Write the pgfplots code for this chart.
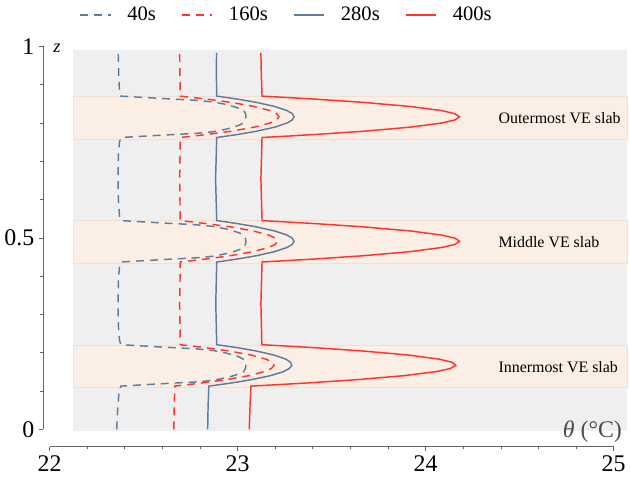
\documentclass[border=0pt]{standalone}
\usepackage{pgfplots}
\pgfplotsset{compat=1.18}
\usepackage{fontspec}
\setmainfont{Liberation Serif}
\definecolor{cblue}{RGB}{92,124,160}
\definecolor{cred}{RGB}{255,52,48}
\definecolor{bggray}{RGB}{239,239,239}
\definecolor{band}{RGB}{251,238,229}
\definecolor{bandedge}{RGB}{240,225,215}
\definecolor{axgray}{RGB}{100,100,100}
\newcommand{\lgd}[1]{\hspace{12pt}\fontsize{15.5}{15.5}\selectfont #1}
\newcommand{\lgap}{\rule{19pt}{0pt}}
\begin{document}
\begin{tikzpicture}
\begin{axis}[
  scale only axis, width=425.25pt, height=288.75pt,
  xmin=22, xmax=25, ymin=0, ymax=1,
  axis x line*=bottom, axis y line*=left,
  axis x line shift=13pt, axis y line shift=5pt,
  axis line style={-, axgray, line width=0.6pt},
  xtick={22,23,24,25}, ytick={0,0.5,1},
  xticklabels={22,23,24,25}, yticklabels={0,0.5,1},
  minor xtick={22.2,22.4,22.6,22.8,23.2,23.4,23.6,23.8,24.2,24.4,24.6,24.8},
  minor ytick={0.1,0.2,0.3,0.4,0.6,0.7,0.8,0.9},
  tick align=outside,
  major tick length=3pt, minor tick length=2pt,
  tick style={axgray, line width=0.5pt},
  /pgf/number format/assume math mode=true,
  tick label style={font=\rmfamily\fontsize{18}{18}\selectfont, black},
  clip=false,
  legend columns=4,
  legend style={draw=none, fill=none, at={(0.053,1.082)}, anchor=west,
    inner sep=0pt, outer sep=0pt, column sep=0pt,
    nodes={inner sep=0pt},
    font=\rmfamily\fontsize{15.5}{15.5}\selectfont},
  legend image code/.code={\draw[#1] (0pt,0pt) -- (23pt,0pt);},
]
\path (axis cs:21.739,-0.128) rectangle (axis cs:25.072,1.121);
\fill[bggray] (axis cs:22.127,-0.004) rectangle (axis cs:25.072,0.991);
\filldraw[fill=band, draw=bandedge, line width=0.3pt] (axis cs:22.127,0.758) rectangle (axis cs:25.072,0.870);
\filldraw[fill=band, draw=bandedge, line width=0.3pt] (axis cs:22.127,0.434) rectangle (axis cs:25.072,0.5465);
\filldraw[fill=band, draw=bandedge, line width=0.3pt] (axis cs:22.127,0.110) rectangle (axis cs:25.072,0.221);

% 40s
\addplot[cblue, line width=1.1pt, dash pattern=on 6pt off 4.5pt] coordinates {
(22.357,0) (22.362,0.05) (22.368,0.09) (22.372,0.105)
(22.380,0.113) (22.493,0.1162) (22.619,0.1197) (22.778,0.1238) (22.871,0.1281) (22.938,0.1346) (22.978,0.140) (23.011,0.1454) (23.034,0.1519) (23.042,0.1589) (23.044,0.167)
(23.042,0.1751) (23.034,0.1821) (23.011,0.1886) (22.978,0.194) (22.938,0.1994) (22.871,0.2059) (22.778,0.2102) (22.619,0.2143) (22.493,0.2178) (22.380,0.221)
(22.372,0.232) (22.366,0.27) (22.364,0.329) (22.366,0.39) (22.372,0.426)
(22.380,0.437) (22.493,0.4402) (22.619,0.4437) (22.778,0.4478) (22.871,0.4521) (22.938,0.4586) (22.978,0.464) (23.011,0.4694) (23.034,0.4759) (23.042,0.4829) (23.044,0.491)
(23.042,0.4991) (23.034,0.5061) (23.011,0.5126) (22.978,0.518) (22.938,0.5234) (22.871,0.5299) (22.778,0.5342) (22.619,0.5383) (22.493,0.5418) (22.380,0.545)
(22.372,0.556) (22.366,0.60) (22.364,0.66) (22.366,0.72) (22.372,0.751)
(22.380,0.762) (22.493,0.7652) (22.619,0.7687) (22.778,0.7728) (22.871,0.7771) (22.938,0.7836) (22.978,0.789) (23.011,0.7944) (23.034,0.8009) (23.042,0.8079) (23.044,0.816)
(23.042,0.8241) (23.034,0.8311) (23.011,0.8376) (22.978,0.843) (22.938,0.8484) (22.871,0.8549) (22.778,0.8592) (22.619,0.8633) (22.493,0.8668) (22.380,0.870)
(22.372,0.881) (22.368,0.92) (22.365,0.983)
};
\addlegendentry{\lgd{40s}\lgap}

% 160s
\addplot[cred, line width=1.1pt, dash pattern=on 6pt off 4.5pt] coordinates {
(22.661,0) (22.663,0.06) (22.666,0.113)
(22.716,0.1157) (22.810,0.1211) (22.932,0.1292) (23.058,0.140) (23.143,0.1508) (23.180,0.1589) (23.194,0.167)
(23.185,0.1751) (23.152,0.1832) (23.073,0.194) (22.952,0.2048) (22.835,0.2129) (22.744,0.2183) (22.695,0.221)
(22.692,0.329)
(22.695,0.437) (22.745,0.4397) (22.838,0.4451) (22.959,0.4532) (23.083,0.464) (23.165,0.4748) (23.200,0.4829) (23.212,0.491)
(23.200,0.4991) (23.165,0.5072) (23.083,0.518) (22.959,0.5288) (22.838,0.5369) (22.745,0.5423) (22.695,0.545)
(22.692,0.654)
(22.695,0.762) (22.746,0.7647) (22.841,0.7701) (22.963,0.7782) (23.089,0.789) (23.173,0.7998) (23.208,0.8079) (23.220,0.816)
(23.208,0.8241) (23.173,0.8322) (23.089,0.843) (22.963,0.8538) (22.841,0.8619) (22.746,0.8673) (22.695,0.870)
(22.693,0.93) (22.692,0.983)
};
\addlegendentry{\lgd{160s}\lgap}

% 280s
\addplot[cblue, line width=1.1pt] coordinates {
(22.841,0) (22.843,0.06) (22.847,0.113)
(22.889,0.1157) (22.967,0.1211) (23.068,0.1292) (23.173,0.140) (23.244,0.1508) (23.275,0.1589) (23.288,0.167)
(23.282,0.1751) (23.257,0.1832) (23.194,0.194) (23.097,0.2048) (23.003,0.2129) (22.929,0.2183) (22.889,0.221)
(22.884,0.329)
(22.889,0.437) (22.929,0.4397) (23.003,0.4451) (23.099,0.4532) (23.197,0.464) (23.263,0.4748) (23.291,0.4829) (23.300,0.491)
(23.291,0.4991) (23.263,0.5072) (23.197,0.518) (23.099,0.5288) (23.003,0.5369) (22.929,0.5423) (22.889,0.545)
(22.883,0.654)
(22.889,0.762) (22.929,0.7647) (23.003,0.7701) (23.099,0.7782) (23.197,0.789) (23.263,0.7998) (23.291,0.8079) (23.300,0.816)
(23.291,0.8241) (23.263,0.8322) (23.197,0.843) (23.099,0.8538) (23.003,0.8619) (22.929,0.8673) (22.889,0.870)
(22.887,0.93) (22.888,0.983)
};
\addlegendentry{\lgd{280s}\lgap}

% 400s
\addplot[cred, line width=1.1pt] coordinates {
(23.062,0) (23.066,0.06) (23.071,0.113)
(23.176,0.1157) (23.370,0.1211) (23.620,0.1292) (23.881,0.140) (24.056,0.1508) (24.132,0.1589) (24.160,0.167)
(24.141,0.1751) (24.073,0.1832) (23.910,0.194) (23.661,0.2048) (23.419,0.2129) (23.231,0.2183) (23.129,0.221)
(23.124,0.329)
(23.130,0.437) (23.232,0.4397) (23.421,0.4451) (23.666,0.4532) (23.918,0.464) (24.086,0.4748) (24.156,0.4829) (24.180,0.491)
(24.156,0.4991) (24.086,0.5072) (23.918,0.518) (23.666,0.5288) (23.421,0.5369) (23.232,0.5423) (23.130,0.545)
(23.124,0.654)
(23.130,0.762) (23.232,0.7647) (23.421,0.7701) (23.666,0.7782) (23.918,0.789) (24.086,0.7998) (24.156,0.8079) (24.180,0.816)
(24.156,0.8241) (24.086,0.8322) (23.918,0.843) (23.666,0.8538) (23.421,0.8619) (23.232,0.8673) (23.130,0.870)
(23.126,0.93) (23.124,0.983)
};
\addlegendentry{\lgd{400s}}

\node[anchor=west, font=\rmfamily\fontsize{12}{12}\selectfont] at (axis cs:24.363,0.812) {Outermost VE slab};
\node[anchor=west, font=\rmfamily\fontsize{12}{12}\selectfont] at (axis cs:24.363,0.488) {Middle VE slab};
\node[anchor=west, font=\rmfamily\fontsize{12}{12}\selectfont] at (axis cs:24.363,0.163) {Innermost VE slab};
\node[font=\rmfamily\fontsize{18}{18}\selectfont, text=black!70] at (axis cs:24.887,-0.006) {\textit{θ} (°C)};
\node[font=\rmfamily\fontsize{14}{14}\selectfont] at (axis cs:22.04,0.994) {\textit{z}};
\end{axis}
\end{tikzpicture}
\end{document}
